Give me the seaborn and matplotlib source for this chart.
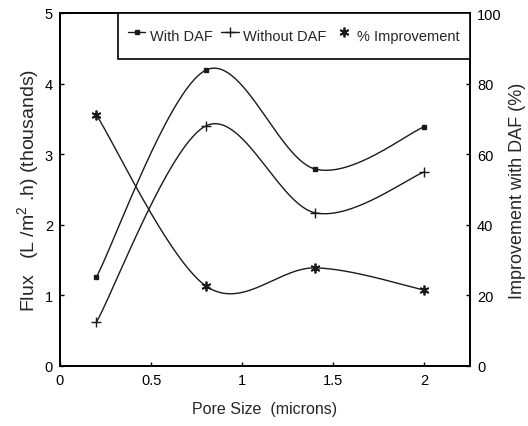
import numpy as np
import pandas as pd
import matplotlib
matplotlib.use("Agg")
import matplotlib.pyplot as plt
from matplotlib.lines import Line2D
import seaborn as sns

# Measured flux (thousands of L/m2.h) and improvement for each membrane pore size
pore_size = [0.2, 0.8, 1.4, 2.0]
flux_with_daf = [1.26, 4.19, 2.79, 3.39]
flux_without_daf = [0.62, 3.40, 2.17, 2.75]
improvement_pct = [71.1, 22.7, 27.8, 21.5]

x_ticks = [0, 0.5, 1, 1.5, 2]
x_tick_labels = ["0", "0.5", "1", "1.5", "2"]
flux_ticks = [0, 1, 2, 3, 4, 5]
pct_ticks = [0, 20, 40, 60, 80, 100]

series_names = ["With DAF", "Without DAF", "% Improvement"]


def smooth_curve(x, y, n=60):
    """Bezier smoothing through the points (spreadsheet-style smoothed line)."""
    pts = np.column_stack([x, y]).astype(float)
    ext = np.vstack([pts[0], pts, pts[-1]])
    t = np.linspace(0, 1, n)[:, None]
    segs = []
    for i in range(len(pts) - 1):
        p0, p3 = ext[i + 1], ext[i + 2]
        c1 = p0 + (ext[i + 2] - ext[i]) / 6
        c2 = p3 - (ext[i + 3] - ext[i + 1]) / 6
        seg = ((1 - t) ** 3) * p0 + 3 * ((1 - t) ** 2) * t * c1 \
            + 3 * (1 - t) * t ** 2 * c2 + t ** 3 * p3
        segs.append(seg if i == 0 else seg[1:])
    out = np.vstack(segs)
    return pd.DataFrame({"x": out[:, 0], "y": out[:, 1]})


sns.set_style("ticks")
plt.rcParams["font.family"] = ["Liberation Sans", "DejaVu Sans"]
plt.rcParams["mathtext.fontset"] = "custom"
plt.rcParams["mathtext.rm"] = "Liberation Sans"
plt.rcParams["mathtext.it"] = "Liberation Sans"

fig = plt.figure(figsize=(5.28, 4.27), dpi=100)
ax = fig.add_axes([60 / 528, 60 / 427, 410 / 528, 353 / 427])
ax2 = ax.twinx()

line_color = "#1a1a1a"

df_with = smooth_curve(pore_size, flux_with_daf)
df_without = smooth_curve(pore_size, flux_without_daf)
df_imp = smooth_curve(pore_size, improvement_pct)

sns.lineplot(data=df_with, x="x", y="y", ax=ax, color=line_color,
             linewidth=1.0, sort=False, estimator=None)
sns.lineplot(data=df_without, x="x", y="y", ax=ax, color=line_color,
             linewidth=1.0, sort=False, estimator=None)
sns.lineplot(data=df_imp, x="x", y="y", ax=ax2, color=line_color,
             linewidth=1.0, sort=False, estimator=None)

asterisk = (6, 2, 0)
ax.plot(pore_size, flux_with_daf, ls="none", marker="s", ms=2.5,
        color=line_color)
ax.plot(pore_size, flux_without_daf, ls="none", marker="+", ms=7,
        mew=1.0, color=line_color)
ax2.plot(pore_size, improvement_pct, ls="none", marker=asterisk, ms=7,
         mew=1.3, color=line_color)

ax.set_xlim(0, 2.25)
ax.set_ylim(0, 5)
ax2.set_ylim(0, 100)
ax.set_xticks(x_ticks)
ax.set_xticklabels(x_tick_labels)
ax.set_yticks(flux_ticks)
ax.set_yticklabels([str(v) for v in flux_ticks])
ax2.set_yticks(pct_ticks)
ax2.set_yticklabels([str(v) for v in pct_ticks])

for a in (ax, ax2):
    a.tick_params(direction="in", length=3, width=1, labelsize=10.5,
                  colors="black", pad=5)
    for s in a.spines.values():
        s.set_linewidth(1.3)
        s.set_color("black")

ax.set_xlabel("Pore Size  (microns)", fontsize=11.5, labelpad=10)
ax.set_ylabel("Flux   (L /m$^2$ .h) (thousands)", fontsize=14, labelpad=3)
ax2.set_ylabel("Improvement with DAF (%)", fontsize=13, labelpad=5)

handles = [
    Line2D([], [], color=line_color, lw=1.0, marker="s", ms=2.5),
    Line2D([], [], color=line_color, lw=1.0, marker="+", ms=7, mew=1.0),
    Line2D([], [], color=line_color, lw=0, marker=asterisk, ms=7, mew=1.3),
]
leg = ax2.legend(handles, series_names, loc="upper right",
                 bbox_to_anchor=(1.0, 1.0), ncol=3, frameon=True,
                 fancybox=False, edgecolor="black", framealpha=1,
                 fontsize=10.5, handlelength=1.2, handletextpad=0.3,
                 handleheight=2.3, columnspacing=0.6, borderpad=0.7,
                 borderaxespad=0)
leg.get_frame().set_linewidth(1.2)

fig.savefig("out.png", dpi=100)
